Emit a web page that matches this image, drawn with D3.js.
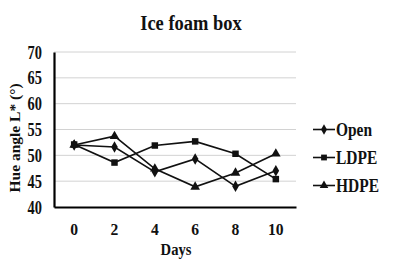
<!DOCTYPE html>
<html>
<head>
<meta charset="utf-8">
<script src="https://cdn.jsdelivr.net/npm/d3@7"></script>
<style>
  body { margin: 0; background: #fff; }
  text { font-family: "Liberation Serif", "Times New Roman", serif; font-weight: bold; fill: #111; }
</style>
</head>
<body>
<script>
/* chart data */
var days = ["0", "2", "4", "6", "8", "10"];
var openValues = [52.0, 51.6, 46.8, 49.3, 44.0, 47.0];
var ldpeValues = [52.1, 48.6, 51.9, 52.7, 50.3, 45.4];
var hdpeValues = [52.0, 53.7, 47.4, 43.9, 46.6, 50.3];
var seriesNames = ["Open", "LDPE", "HDPE"];
var yTicks = [40, 45, 50, 55, 60, 65, 70];

var width = 405;
var height = 260;
var plot = {left: 54, right: 296, top: 52, bottom: 207};

var svg = d3.select("body").append("svg")
    .attr("width", width)
    .attr("height", height);

var xScale = d3.scaleBand().domain(days).range([plot.left, plot.right]);
var yScale = d3.scaleLinear().domain([40, 70]).range([plot.bottom, plot.top]);

// marker shapes for each series
var symbols = [d3.symbolDiamond, d3.symbolSquare, d3.symbolTriangle];
var symbolSizes = [38, 42, 40];

// the source text looks squeezed sideways, so scale x a bit
function squeeze(x, y, sx) {
    return "translate(" + x + "," + y + ") scale(" + sx + ",1)";
}

/* gridlines */
svg.append("g")
    .selectAll("line")
    .data(yTicks.slice(1))
    .enter().append("line")
    .attr("x1", plot.left)
    .attr("x2", plot.right)
    .attr("y1", function(d) { return yScale(d); })
    .attr("y2", function(d) { return yScale(d); })
    .attr("stroke", "#d2d2d2")
    .attr("stroke-width", 1);

/* y axis */
var gy = svg.append("g")
    .attr("transform", "translate(" + plot.left + ",0)")
    .call(d3.axisLeft(yScale).tickValues(yTicks).tickSize(0));
gy.select(".domain").attr("stroke", "#000").attr("stroke-width", 2.2);
gy.selectAll("text")
    .style("font-family", null)
    .attr("font-size", 18)
    .attr("x", 0)
    .attr("dy", "0.34em")
    .attr("transform", squeeze(-12, 0, 0.8));

/* x axis */
var gx = svg.append("g")
    .attr("transform", "translate(0," + plot.bottom + ")")
    .call(d3.axisBottom(xScale).tickSize(0));
gx.select(".domain").attr("stroke", "#000").attr("stroke-width", 2.2);
gx.selectAll("text")
    .style("font-family", null)
    .attr("font-size", 17)
    .attr("y", 0)
    .attr("dy", 0)
    .attr("transform", squeeze(0, 28, 0.92));

/* titles */
svg.append("text")
    .attr("transform", squeeze(191, 30, 0.84))
    .attr("text-anchor", "middle")
    .attr("font-size", 22)
    .text("Ice foam box");

svg.append("text")
    .attr("transform", squeeze(176, 255, 0.86))
    .attr("text-anchor", "middle")
    .attr("font-size", 17)
    .text("Days");

svg.append("text")
    .attr("transform", "translate(20,138) rotate(-90)")
    .attr("text-anchor", "middle")
    .attr("font-size", 15.5)
    .text("Hue angle L* (°)");

/* series lines and markers */
var allSeries = [openValues, ldpeValues, hdpeValues];
var line = d3.line()
    .x(function(d, i) { return xScale(days[i]) + xScale.bandwidth() / 2; })
    .y(function(d) { return yScale(d); });

allSeries.forEach(function(values, s) {
    svg.append("path")
        .datum(values)
        .attr("fill", "none")
        .attr("stroke", "#111")
        .attr("stroke-width", 1.6)
        .attr("d", line);

    svg.append("g")
        .selectAll("path")
        .data(values)
        .enter().append("path")
        .attr("transform", function(d, i) {
            return "translate(" + (xScale(days[i]) + xScale.bandwidth() / 2) + "," + yScale(d) + ")";
        })
        .attr("d", d3.symbol().type(symbols[s]).size(symbolSizes[s]))
        .attr("fill", "#111");
});

/* legend */
var legend = svg.selectAll(".legend")
    .data(seriesNames)
    .enter().append("g")
    .attr("class", "legend")
    .attr("transform", function(d, i) { return "translate(313," + (129.5 + i * 28) + ")"; });

legend.append("line")
    .attr("x1", 0).attr("x2", 22)
    .attr("stroke", "#111")
    .attr("stroke-width", 1.6);

legend.append("path")
    .attr("transform", "translate(11,0)")
    .attr("d", function(d, i) { return d3.symbol().type(symbols[i]).size(symbolSizes[i] * 0.8)(); })
    .attr("fill", "#111");

legend.append("text")
    .attr("transform", squeeze(23, 0, 0.86))
    .attr("dy", "0.34em")
    .attr("font-size", 18)
    .text(function(d) { return d; });
</script>
</body>
</html>
